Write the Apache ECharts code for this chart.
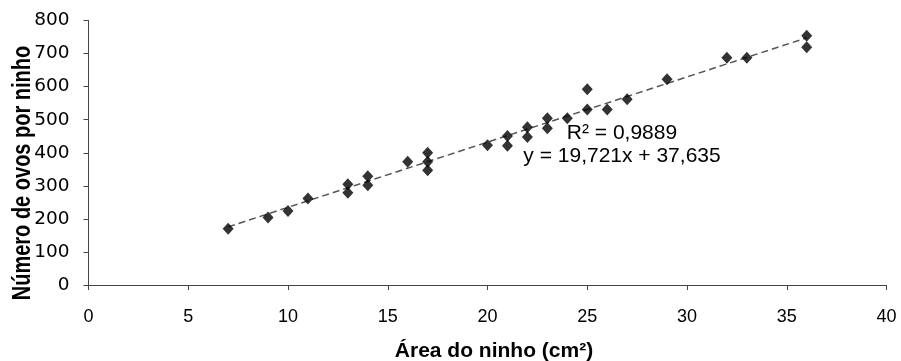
<!DOCTYPE html>
<html>
<head>
<meta charset="utf-8">
<script src="https://cdn.jsdelivr.net/npm/echarts@6/dist/echarts.min.js"></script>
<style>html,body{margin:0;padding:0;background:#fff}#c{width:901px;height:361px}</style>
</head>
<body>
<div id="c"></div>
<script>
// Data
var areaX = [7, 9, 10, 11, 13, 13, 14, 14, 16, 17, 17, 17, 20, 21, 21, 22, 22, 23, 23, 24, 25, 25, 26, 27, 29, 32, 33, 36, 36];
var eggsY = [170, 204, 224, 262, 279, 305, 302, 329, 373, 347, 373, 400, 423, 421, 451, 448, 477, 474, 504, 504, 531, 592, 531, 562, 622, 687, 687, 719, 754];
// Trend line end points (from the displayed equation y = 19,721x + 37,635)
var trendX = [7, 36];
var trendY = [175.7, 747.6];
var xTicks = [0, 5, 10, 15, 20, 25, 30, 35, 40];
var yTicks = [0, 100, 200, 300, 400, 500, 600, 700, 800];
var labelLines = ['R² = 0,9889', 'y = 19,721x + 37,635'];
var xTitle = 'Área do ninho (cm²)';
var yTitle = 'Número de ovos por ninho';

var points = areaX.map(function (x, i) { return [x, eggsY[i]]; });
var trend = trendX.map(function (x, i) { return [x, trendY[i]]; });

var axisCol = '#444';
var chart = echarts.init(document.getElementById('c'), null, {renderer: 'canvas'});
chart.setOption({
  animation: false,
  grid: {left: 88.5, right: 14.5, top: 20.5, bottom: 76},
  xAxis: {
    type: 'value', min: xTicks[0], max: xTicks[xTicks.length - 1], interval: xTicks[1] - xTicks[0],
    splitLine: {show: false},
    axisLine: {show: true, onZero: false, lineStyle: {color: axisCol, width: 1}},
    axisTick: {show: true, length: 5, lineStyle: {color: axisCol}},
    axisLabel: {color: '#000', fontSize: 18, fontFamily: 'Liberation Sans', margin: 23}
  },
  yAxis: {
    type: 'value', min: yTicks[0], max: yTicks[yTicks.length - 1], interval: yTicks[1] - yTicks[0],
    splitLine: {show: false},
    axisLine: {show: true, onZero: false, lineStyle: {color: axisCol, width: 1}},
    axisTick: {show: true, length: 5, lineStyle: {color: axisCol}},
    axisLabel: {color: '#000', fontSize: 18.5, fontFamily: 'DejaVu Sans', margin: 19}
  },
  series: [
    {
      type: 'line', data: trend, symbol: 'none', z: 1,
      lineStyle: {color: '#555', width: 1.5, type: [7, 4]}
    },
    {
      type: 'scatter', data: points, symbol: 'diamond', symbolSize: [11, 12], z: 2,
      itemStyle: {color: '#000'}
    }
  ],
  graphic: [
    {
      type: 'text', x: 622, y: 121, z: 10,
      style: {text: labelLines.join('\n'), fill: '#000', font: '21px "Liberation Sans"', align: 'center', verticalAlign: 'top', lineHeight: 23.5}
    },
    {
      type: 'text', x: 494, y: 351,
      style: {text: xTitle, fill: '#000', font: 'bold 21px "Liberation Sans"', align: 'center', verticalAlign: 'middle'}
    },
    {
      type: 'text', x: 23, y: 173, rotation: Math.PI / 2, scaleY: 1.3,
      style: {text: yTitle, fill: '#000', font: 'bold 20px "Liberation Sans"', align: 'center', verticalAlign: 'middle'}
    }
  ]
});
</script>
</body>
</html>
